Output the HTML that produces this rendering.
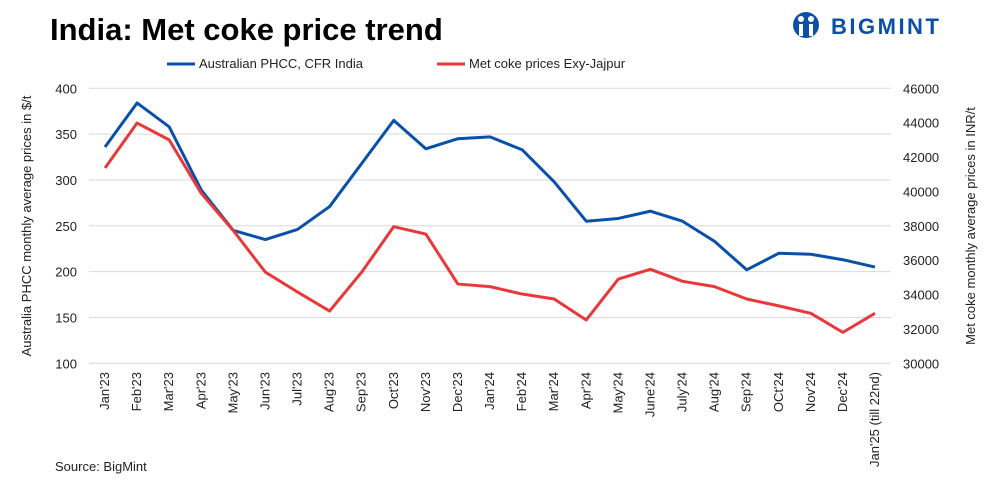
<!DOCTYPE html>
<html><head><meta charset="utf-8"><style>
body{margin:0;background:#fff;font-family:"Liberation Sans",sans-serif;}
#wrap{position:relative;width:990px;height:485px;overflow:hidden;}
</style></head><body>
<div id="wrap">
<svg id="chart" width="990" height="485" xmlns="http://www.w3.org/2000/svg">
<text x="50" y="40" font-size="31" font-weight="bold" fill="#000" font-family="Liberation Sans, sans-serif">India: Met coke price trend</text>
<g>
<circle cx="806" cy="25" r="13" fill="#0a4fa8"/>
<circle cx="801" cy="19" r="3" fill="#fff"/><circle cx="811" cy="19" r="3" fill="#fff"/>
<rect x="799" y="24" width="4" height="12" fill="#fff"/><rect x="809" y="24" width="4" height="12" fill="#fff"/>
<text x="831" y="34" font-size="22" font-weight="bold" fill="#0a4fa8" letter-spacing="2.5" font-family="Liberation Sans, sans-serif">BIGMINT</text>
</g>
<g>
<line x1="167" y1="64" x2="195" y2="64" stroke="#0a4fa8" stroke-width="3"/>
<text x="199" y="68" font-size="13" fill="#222">Australian PHCC, CFR India</text>
<line x1="437" y1="64" x2="465" y2="64" stroke="#e8383a" stroke-width="3"/>
<text x="469" y="68" font-size="13" fill="#222">Met coke prices Exy-Jajpur</text>
</g>
<g id="grid"></g><g id="ticks"></g><g id="series"></g>
<text transform="translate(31,226) rotate(-90)" text-anchor="middle" font-size="13" fill="#222">Australia PHCC monthly average prices in $/t</text>
<text transform="translate(975,226) rotate(-90)" text-anchor="middle" font-size="13" fill="#222">Met coke monthly average prices in INR/t</text>
<text x="55" y="471" font-size="13" fill="#222">Source: BigMint</text>
</svg>
</div>
<script>
const categories=["Jan'23","Feb'23","Mar'23","Apr'23","May'23","Jun'23","Jul'23","Aug'23","Sep'23","Oct'23","Nov'23","Dec'23","Jan'24","Feb'24","Mar'24","Apr'24","May'24","June'24","July'24","Aug'24","Sep'24","OCt'24","Nov'24","Dec'24","Jan'25 (till 22nd)"];
const phccValues=[336,384,358,289,245,235,246,271,318,365,334,345,347,333,298,255,258,266,255,233,202,220,219,213,205];
const metcokeValues=[41360,43980,43000,39890,37720,35300,34150,33040,35300,37950,37520,34610,34460,34030,33740,32520,34900,35470,34770,34460,33740,33340,32910,31800,32910];
const leftTicks=[100,150,200,250,300,350,400];
const rightTicks=[30000,32000,34000,36000,38000,40000,42000,44000,46000];
const NS="http://www.w3.org/2000/svg";
const plotL=89,plotR=891,yTop=88.3,yBot=363.3,x0=105,x1=875;
function xPos(i){return x0+(x1-x0)*i/(categories.length-1);}
function yLeft(v){return yBot-(v-100)/(400-100)*(yBot-yTop);}
function yRight(v){return yBot-(v-30000)/(46000-30000)*(yBot-yTop);}
function mk(tag,attrs,parent){const e=document.createElementNS(NS,tag);for(const k in attrs)e.setAttribute(k,attrs[k]);parent.appendChild(e);return e;}
const grid=document.getElementById('grid'),ticks=document.getElementById('ticks'),series=document.getElementById('series');
leftTicks.forEach(t=>{
  const l=mk('line',{x1:plotL,x2:plotR,y1:yLeft(t),y2:yLeft(t),stroke:'#d9d9d9','stroke-width':1},grid);
  
  
  const tx=mk('text',{x:77,y:yLeft(t)+5,'text-anchor':'end','font-size':13,fill:'#222'},ticks);
  tx.textContent=t;
  
  
});
rightTicks.forEach(t=>{
  const tx=mk('text',{x:903,y:yRight(t)+5,'font-size':13,fill:'#222'},ticks);
  tx.textContent=t;
  
  
});
categories.forEach((c,i)=>{
  const x=xPos(i);
  const tx=mk('text',{transform:`translate(${x+4},372) rotate(-90)`,'text-anchor':'end','font-size':13,fill:'#222'},ticks);
  tx.textContent=c;
  
  
});
const p1=mk('polyline',{points:phccValues.map((v,i)=>xPos(i)+','+yLeft(v)).join(' '),fill:'none',stroke:'#0a4fa8','stroke-width':3,'stroke-linejoin':'round'},series);


const p2=mk('polyline',{points:metcokeValues.map((v,i)=>xPos(i)+','+yRight(v)).join(' '),fill:'none',stroke:'#e8383a','stroke-width':3,'stroke-linejoin':'round'},series);


</script>
</body></html>
